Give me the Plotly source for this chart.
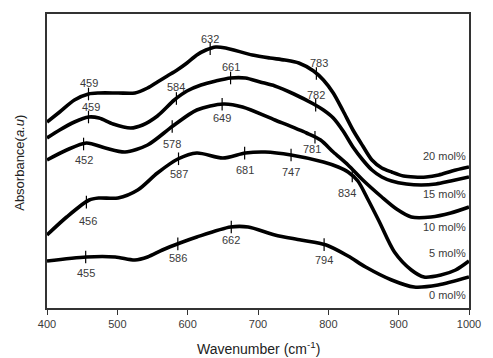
import numpy as np
import plotly.graph_objects as go

# ---------------- data ----------------
wn_20 = [400, 418, 439, 459, 474, 501, 525, 543, 557, 571, 585, 599, 613, 626, 640, 654, 692, 717, 738, 758,
         779, 793, 807, 821, 835, 849, 862, 876, 890, 907, 922, 939, 957, 976, 1000]
ab_20 = [1.86, 1.96, 2.08, 2.14, 2.15, 2.15, 2.15, 2.20, 2.26, 2.32, 2.38, 2.45, 2.53, 2.58, 2.61, 2.60, 2.53, 2.50, 2.48, 2.45,
         2.37, 2.28, 2.15, 1.97, 1.78, 1.62, 1.48, 1.40, 1.36, 1.32, 1.31, 1.31, 1.33, 1.37, 1.41]

wn_15 = [400, 418, 439, 459, 474, 494, 519, 536, 557, 581, 599, 619, 640, 661, 682, 703, 724, 751, 779, 793,
         807, 821, 835, 849, 862, 876, 890, 911, 932, 953, 974, 1000]
ab_15 = [1.70, 1.78, 1.86, 1.91, 1.90, 1.84, 1.80, 1.83, 1.92, 2.08, 2.17, 2.23, 2.27, 2.30, 2.30, 2.26, 2.22, 2.14, 2.04, 1.98,
         1.90, 1.77, 1.61, 1.48, 1.38, 1.31, 1.27, 1.24, 1.23, 1.24, 1.27, 1.31]

wn_10 = [400, 428, 456, 483, 511, 543, 579, 613, 651, 678, 724, 769, 789, 807, 828, 849, 876, 897, 918, 946, 974, 1000]
ab_10 = [1.48, 1.58, 1.65, 1.60, 1.56, 1.63, 1.82, 1.98, 2.04, 2.01, 1.88, 1.75, 1.68, 1.56, 1.43, 1.28, 1.11, 0.99, 0.91, 0.91, 0.95, 1.01]

wn_5 = [400, 428, 460, 474, 501, 529, 557, 586, 613, 650, 682, 710, 747, 793, 814, 828, 842, 856, 872, 894,
        918, 936, 960, 981, 1000]
ab_5 = [0.73, 0.91, 1.08, 1.10, 1.10, 1.18, 1.35, 1.49, 1.55, 1.50, 1.55, 1.56, 1.53, 1.46, 1.41, 1.36, 1.27, 1.09, 0.87, 0.56,
        0.38, 0.31, 0.33, 0.38, 0.47]

wn_0 = [400, 456, 497, 525, 543, 564, 589, 613, 661, 686, 724, 761, 797, 828, 853, 890, 922, 956, 1000]
ab_0 = [0.47, 0.51, 0.51, 0.48, 0.51, 0.58, 0.65, 0.71, 0.81, 0.81, 0.73, 0.68, 0.63, 0.52, 0.41, 0.28, 0.21, 0.23, 0.31]

series_names = ["20 mol%", "15 mol%", "10 mol%", "5 mol%", "0 mol%"]

peaks_20 = [459, 632, 783]
peaks_15 = [459, 584, 661, 782]
peaks_10 = [452, 578, 649, 781]
peaks_5 = [456, 587, 681, 747, 834]
peaks_0 = [455, 586, 662, 794]

x_ticks = [400, 500, 600, 700, 800, 900, 1000]

# ---------------- styling / layout ----------------
series = [
    (wn_20, ab_20, peaks_20, [(0, 11), (0, 10), (3, 11)], 1.52),
    (wn_15, ab_15, peaks_15, [(2, 10), (0, 12), (0, 11), (0, 10)], 1.14),
    (wn_10, ab_10, peaks_10, [(0, -16), (0, -17), (0, -14), (-3, -12)], 0.81),
    (wn_5, ab_5, peaks_5, [(2, -19), (0, -15), (0, -17), (0, -17), (-5, -17)], 0.55),
    (wn_0, ab_0, peaks_0, [(0, -16), (0, -14), (0, -13), (0, -15)], 0.13),
]

TXT = "#3a3a3a"
FONT = "Liberation Sans, Arial, sans-serif"
fig = go.Figure()
annotations = []
for (wn, ab, peaks, offs, label_y), name in zip(series, series_names):
    fig.add_trace(go.Scatter(x=wn, y=ab, mode="lines", name=name,
                             line=dict(color="black", width=3.6, shape="spline", smoothing=0.8),
                             showlegend=False, hoverinfo="skip"))
    py = np.interp(peaks, wn, ab)
    fig.add_trace(go.Scatter(x=peaks, y=py, mode="markers", showlegend=False, hoverinfo="skip",
                             marker=dict(symbol="line-ns", size=9, line=dict(color="black", width=1.2))))
    for p, yv, (dx, dy) in zip(peaks, py, offs):
        annotations.append(dict(x=p, y=yv, xref="x", yref="y", text=str(p), showarrow=False,
                                xshift=dx, yshift=dy, font=dict(size=11, color=TXT, family=FONT)))
    annotations.append(dict(x=1000, y=label_y, xref="x", yref="y", text=name, showarrow=False,
                            xanchor="right", xshift=-1, font=dict(size=11, color=TXT, family=FONT)))

annotations.append(dict(x=0.5, y=-0.135, xref="paper", yref="paper", showarrow=False,
                        text="Wavenumber (cm<sup>-1</sup>)", yanchor="middle",
                        font=dict(size=14, color="#222", family=FONT)))
annotations.append(dict(x=-0.067, y=0.493, xref="paper", yref="paper", showarrow=False,
                        text="Absorbance(<i>a.u</i>)", textangle=-90, xanchor="center", yanchor="middle",
                        font=dict(size=13, color="#222", family=FONT)))

fig.update_layout(
    width=493, height=358,
    margin=dict(l=47, r=14, t=14, b=50),
    paper_bgcolor="white", plot_bgcolor="white",
    annotations=annotations,
    xaxis=dict(range=[400, 1000], tickvals=x_ticks, ticktext=[str(t) for t in x_ticks],
               showline=True, linecolor="#333", linewidth=1.5, mirror=True,
               ticks="outside", ticklen=5, tickwidth=1.2, tickcolor="#333",
               showgrid=False, zeroline=False,
               tickfont=dict(size=11, color=TXT, family=FONT)),
    yaxis=dict(range=[0, 2.94], showline=True, linecolor="#333", linewidth=1.5, mirror=True,
               showticklabels=False, ticks="", showgrid=False, zeroline=False),
)

fig.write_html("out.html")
